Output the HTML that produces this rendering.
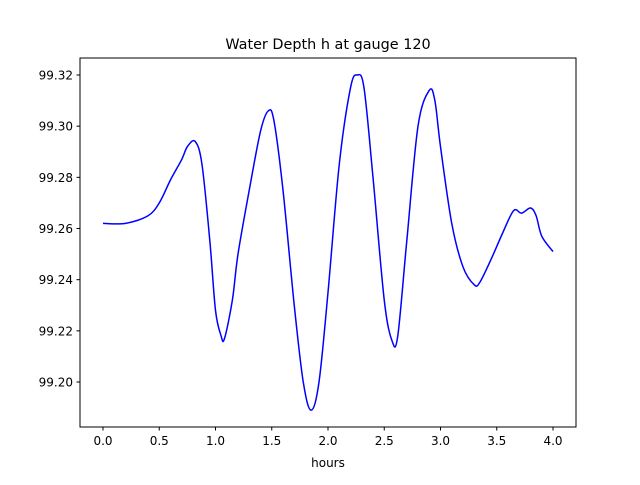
<!DOCTYPE html>
<html><head><meta charset="utf-8"><style>
body{margin:0;background:#fff;}
svg text{font-family:"DejaVu Sans","Liberation Sans",sans-serif;fill:#000;}
</style></head><body>
<svg id="chart" width="640" height="480" xmlns="http://www.w3.org/2000/svg">
<rect width="640" height="480" fill="#fff"/>
<text x="328" y="49" font-size="14.4" text-anchor="middle">Water Depth h at gauge 120</text>
<g id="series"></g>
<rect x="80" y="58" width="496" height="369" fill="none" stroke="#000" stroke-width="1"/>
<g id="xticks"></g><g id="yticks"></g>
<text x="328" y="467" font-size="12" text-anchor="middle">hours</text>
</svg>
<script>
const xTicks=[0,0.5,1,1.5,2,2.5,3,3.5,4];
const xTickLabels=["0.0","0.5","1.0","1.5","2.0","2.5","3.0","3.5","4.0"];
const yTicks=[99.20,99.22,99.24,99.26,99.28,99.30,99.32];
const yTickLabels=["99.20","99.22","99.24","99.26","99.28","99.30","99.32"];
const hours=[0,0.2,0.4,0.5,0.6,0.7,0.75,0.82,0.88,0.95,1.0,1.05,1.08,1.15,1.2,1.3,1.4,1.47,1.52,1.6,1.7,1.78,1.85,1.92,2.0,2.1,2.2,2.26,2.32,2.4,2.5,2.57,2.62,2.7,2.8,2.9,2.95,3.0,3.1,3.2,3.3,3.35,3.45,3.55,3.65,3.72,3.8,3.85,3.9,4.0];
const depth=[99.262,99.262,99.265,99.270,99.279,99.287,99.292,99.294,99.285,99.255,99.228,99.218,99.217,99.232,99.250,99.275,99.298,99.306,99.302,99.275,99.230,99.200,99.189,99.200,99.235,99.285,99.315,99.320,99.315,99.280,99.232,99.216,99.218,99.255,99.300,99.314,99.310,99.292,99.262,99.245,99.238,99.239,99.248,99.258,99.267,99.266,99.268,99.265,99.257,99.251];
const NS="http://www.w3.org/2000/svg";
const X=v=>103+v*112.5;
const Y=v=>75+(99.32-v)/0.02*51.17;
const xg=document.getElementById('xticks'),yg=document.getElementById('yticks'),sg=document.getElementById('series');
function mk(t,a,p){const e=document.createElementNS(NS,t);for(const k in a)e.setAttribute(k,a[k]);p.appendChild(e);return e;}
xTicks.forEach((v,i)=>{
 const l=mk('line',{x1:X(v),x2:X(v),y1:427,y2:430.5,stroke:'#000'},xg);
 
 
 const t=mk('text',{x:X(v),y:445,'font-size':12,'text-anchor':'middle'},xg);t.textContent=xTickLabels[i];
 
 
});
yTicks.forEach((v,i)=>{
 const l=mk('line',{x1:76.5,x2:80,y1:Y(v),y2:Y(v),stroke:'#000'},yg);
 
 
 const t=mk('text',{x:73,y:Y(v)+4.5,'font-size':12,'text-anchor':'end'},yg);t.textContent=yTickLabels[i];
 
 
});
const P=hours.map((h,i)=>[X(h),Y(depth[i])]);
let d='M'+P[0][0]+','+P[0][1];
for(let i=0;i<P.length-1;i++){
 const p0=P[Math.max(0,i-1)],p1=P[i],p2=P[i+1],p3=P[Math.min(P.length-1,i+2)];
 const c1=[p1[0]+(p2[0]-p0[0])/6,p1[1]+(p2[1]-p0[1])/6];
 const c2=[p2[0]-(p3[0]-p1[0])/6,p2[1]-(p3[1]-p1[1])/6];
 d+=` C${c1[0]},${c1[1]} ${c2[0]},${c2[1]} ${p2[0]},${p2[1]}`;
}
const path=mk('path',{d:d,fill:'none',stroke:'#0000ff','stroke-width':1.5},sg);


</script>
</body></html>
